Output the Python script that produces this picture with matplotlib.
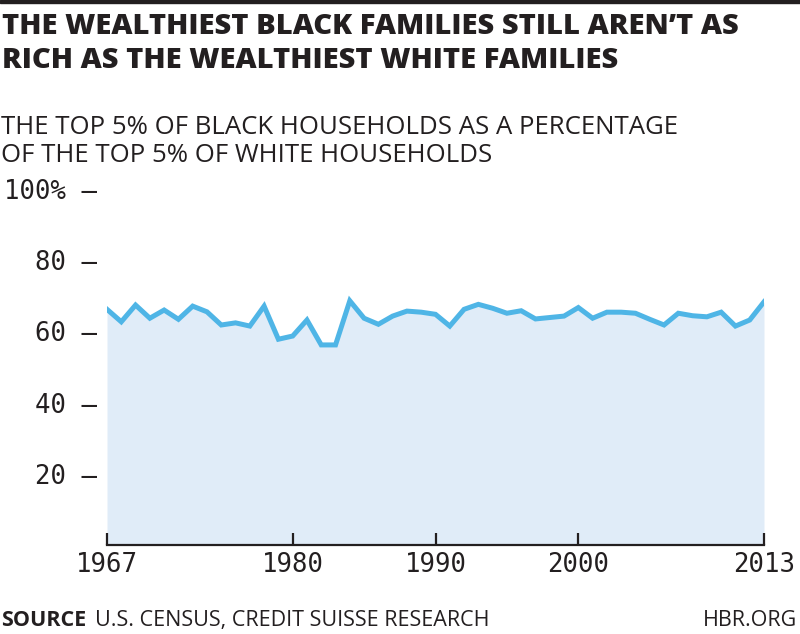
import matplotlib
matplotlib.use("Agg")
import matplotlib.pyplot as plt
from matplotlib.patches import Rectangle

years = list(range(1967, 2014))
values = [66.2, 62.7, 67.4, 63.7, 66.0, 63.4, 67.1, 65.5, 61.8, 62.4,
          61.5, 67.1, 57.8, 58.7, 63.2, 56.2, 56.2, 68.6, 63.7, 62.0,
          64.3, 65.7, 65.4, 64.8, 61.5, 66.2, 67.6, 66.5, 65.1, 65.8,
          63.5, 63.9, 64.3, 66.7, 63.7, 65.4, 65.4, 65.1, 63.4, 61.8,
          65.1, 64.4, 64.1, 65.4, 61.5, 63.2, 68.3]
xticks = [1967, 1980, 1990, 2000, 2013]
yticks = [20, 40, 60, 80, 100]
ytick_labels = ["20 \u2013", "40 \u2013", "60 \u2013", "80 \u2013", "100% \u2013"]

title = "THE WEALTHIEST BLACK FAMILIES STILL AREN\u2019T AS\nRICH AS THE WEALTHIEST WHITE FAMILIES"
subtitle = "THE TOP 5% OF BLACK HOUSEHOLDS AS A PERCENTAGE\nOF THE TOP 5% OF WHITE HOUSEHOLDS"

W, H = 800, 634
fig = plt.figure(figsize=(W / 100, H / 100), dpi=100)
ax = fig.add_axes([107 / W, (H - 545) / H, (764 - 107) / W, (545 - 189) / H])

line_color = "#4fb5e6"
fill_color = "#e0ecf8"
dark = "#231f20"
sans = ["Open Sans", "DejaVu Sans"]

ax.fill_between(years, values, 0, color=fill_color, lw=0, zorder=1)
ax.plot(years, values, color=line_color, lw=3.6, solid_joinstyle="miter", zorder=3)

ax.set_xlim(1967, 2013)
ax.set_ylim(0, 100)
for s in ["top", "right", "left"]:
    ax.spines[s].set_visible(False)
ax.spines["bottom"].set_color(dark)
ax.spines["bottom"].set_linewidth(1.6)
ax.spines["bottom"].set_zorder(5)

mono = ["DejaVu Sans Mono"]
ax.set_xticks(xticks)
ax.set_xticklabels([str(x) for x in xticks], fontsize=18.5, family=mono, color=dark)
ax.tick_params(axis="x", direction="in", length=8.5, width=1.6, color=dark, pad=5)
ax.set_yticks(yticks)
ax.set_yticklabels(ytick_labels, fontsize=18.5, family=mono, color=dark)
ax.tick_params(axis="y", length=0, pad=7)

# top bar
fig.patches.append(Rectangle((0, 1 - 3 / H), 1, 3 / H, transform=fig.transFigure,
                             color=dark, zorder=10))

fig.text(2 / W, 1 - 27 / H, title.split("\n")[0], fontsize=21, fontweight="heavy", family=sans,
         color=dark, va="center", ha="left")
fig.text(2 / W, 1 - 60 / H, title.split("\n")[1], fontsize=21, fontweight="heavy", family=sans,
         color=dark, va="center", ha="left")
fig.text(1 / W, 1 - 127 / H, subtitle.split("\n")[0], fontsize=18.5, family=sans,
         color=dark, va="center", ha="left")
fig.text(1 / W, 1 - 155 / H, subtitle.split("\n")[1], fontsize=18.5, family=sans,
         color=dark, va="center", ha="left")

base = 1 - 626 / H
fig.text(1 / W, base, "SOURCE", fontsize=15.5, fontweight="bold", family=sans,
         color=dark, va="baseline", ha="left")
fig.text(95 / W, base, "U.S. CENSUS, CREDIT SUISSE RESEARCH", fontsize=15.5,
         family=sans, color=dark, va="baseline", ha="left")
fig.text(797 / W, base, "HBR.ORG", fontsize=15.5, family=sans,
         color=dark, va="baseline", ha="right")

fig.savefig("out.png", dpi=100)
